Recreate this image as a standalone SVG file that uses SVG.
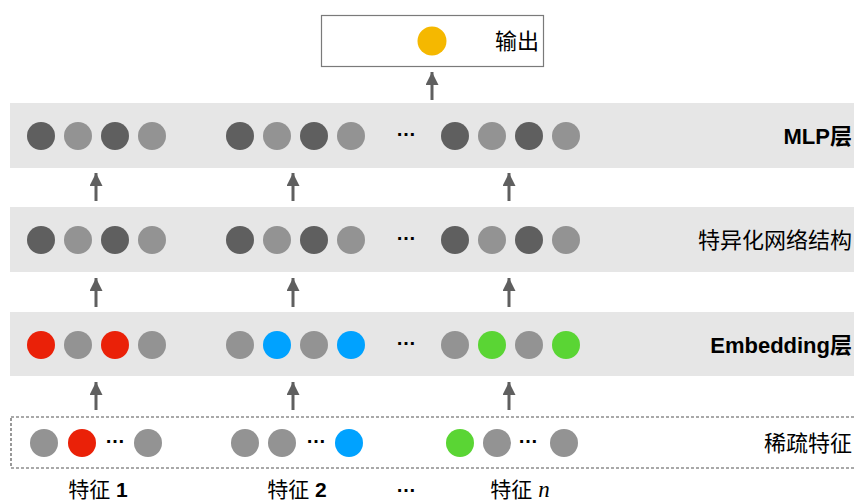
<svg xmlns="http://www.w3.org/2000/svg" width="854" height="502" viewBox="0 0 854 502">
<defs>
<marker id="ah" markerUnits="userSpaceOnUse" markerWidth="13" markerHeight="14" refX="13" refY="6.5" orient="auto">
<path d="M0,0 L13,6.5 L0,13 Z" fill="#5f5f5f"/>
</marker>
</defs>
<style>
.band{fill:#e6e6e6}
.d{fill:#5f5f5f}
.l{fill:#939393}
.r{fill:#ea2108}
.b{fill:#00a2ff}
.g{fill:#5ad534}
.lab{font-family:"Liberation Sans","Noto Sans CJK SC",sans-serif;font-size:22px;fill:#000;text-anchor:end;dominant-baseline:central}
.bold{font-weight:bold}
.dots{font-family:"Liberation Sans",sans-serif;font-size:20px;font-weight:bold;fill:#000;text-anchor:middle;dominant-baseline:central}
.cap{font-family:"Liberation Sans","Noto Sans CJK SC",sans-serif;font-size:21px;fill:#000;text-anchor:middle;dominant-baseline:central}
.arr{stroke:#5f5f5f;stroke-width:3;fill:none;marker-end:url(#ah)}
</style>
<g id="output">
<rect x="321.5" y="15.5" width="222" height="51" fill="#fff" stroke="#7a7a7a" stroke-width="1.2"/>
<circle cx="432" cy="41" r="14.5" fill="#f5b800"/>
<text class="lab" x="539" y="41">输出</text>
</g>
<g id="mlp">
<rect class="band" x="10" y="103" width="844" height="65"/>
<circle class="d" cx="41" cy="136" r="14"/><circle class="l" cx="78" cy="136" r="14"/><circle class="d" cx="115" cy="136" r="14"/><circle class="l" cx="152" cy="136" r="14"/>
<circle class="d" cx="240" cy="136" r="14"/><circle class="l" cx="277" cy="136" r="14"/><circle class="d" cx="314" cy="136" r="14"/><circle class="l" cx="351" cy="136" r="14"/>
<text class="dots" x="406" y="129">…</text>
<circle class="d" cx="455" cy="136" r="14"/><circle class="l" cx="492" cy="136" r="14"/><circle class="d" cx="529" cy="136" r="14"/><circle class="l" cx="566" cy="136" r="14"/>
<text class="lab bold" x="852" y="136">MLP层</text>
</g>
<g id="specialized">
<rect class="band" x="10" y="207" width="844" height="65"/>
<circle class="d" cx="41" cy="240" r="14"/><circle class="l" cx="78" cy="240" r="14"/><circle class="d" cx="115" cy="240" r="14"/><circle class="l" cx="152" cy="240" r="14"/>
<circle class="d" cx="240" cy="240" r="14"/><circle class="l" cx="277" cy="240" r="14"/><circle class="d" cx="314" cy="240" r="14"/><circle class="l" cx="351" cy="240" r="14"/>
<text class="dots" x="406" y="233">…</text>
<circle class="d" cx="455" cy="240" r="14"/><circle class="l" cx="492" cy="240" r="14"/><circle class="d" cx="529" cy="240" r="14"/><circle class="l" cx="566" cy="240" r="14"/>
<text class="lab" x="852" y="240">特异化网络结构</text>
</g>
<g id="embedding">
<rect class="band" x="10" y="312" width="844" height="64"/>
<circle class="r" cx="41" cy="345" r="14"/><circle class="l" cx="78" cy="345" r="14"/><circle class="r" cx="115" cy="345" r="14"/><circle class="l" cx="152" cy="345" r="14"/>
<circle class="l" cx="240" cy="345" r="14"/><circle class="b" cx="277" cy="345" r="14"/><circle class="l" cx="314" cy="345" r="14"/><circle class="b" cx="351" cy="345" r="14"/>
<text class="dots" x="406" y="338">…</text>
<circle class="l" cx="455" cy="345" r="14"/><circle class="g" cx="492" cy="345" r="14"/><circle class="l" cx="529" cy="345" r="14"/><circle class="g" cx="566" cy="345" r="14"/>
<text class="lab bold" x="852" y="345">Embedding层</text>
</g>
<g id="sparse">
<rect x="11" y="417" width="846" height="51" fill="none" stroke="#555" stroke-width="1.2" stroke-dasharray="3,2"/>
<circle class="l" cx="44" cy="443" r="14"/><circle class="r" cx="82" cy="443" r="14"/>
<text class="dots" x="115" y="436">…</text>
<circle class="l" cx="148" cy="443" r="14"/>
<circle class="l" cx="245" cy="443" r="14"/><circle class="l" cx="282" cy="443" r="14"/>
<text class="dots" x="316" y="436">…</text>
<circle class="b" cx="349" cy="443" r="14"/>
<circle class="g" cx="460" cy="443" r="14"/><circle class="l" cx="497" cy="443" r="14"/>
<text class="dots" x="528" y="436">…</text>
<circle class="l" cx="564" cy="443" r="14"/>
<text class="lab" x="852" y="443">稀疏特征</text>
</g>
<g id="captions">
<text class="cap" x="98" y="489">特征 <tspan font-weight="bold">1</tspan></text>
<text class="cap" x="297" y="489">特征 <tspan font-weight="bold">2</tspan></text>
<text class="dots" x="406" y="485">…</text>
<text class="cap" x="520" y="489">特征 <tspan font-family="Liberation Serif" font-style="italic" font-size="23">n</tspan></text>
</g>
<g id="connectors">
<line class="arr" x1="432" y1="100" x2="432" y2="72"/>
<line class="arr" x1="96" y1="201" x2="96" y2="173"/>
<line class="arr" x1="293" y1="201" x2="293" y2="173"/>
<line class="arr" x1="509" y1="201" x2="509" y2="173"/>
<line class="arr" x1="96" y1="307" x2="96" y2="278"/>
<line class="arr" x1="293" y1="307" x2="293" y2="278"/>
<line class="arr" x1="509" y1="307" x2="509" y2="278"/>
<line class="arr" x1="96" y1="410" x2="96" y2="382"/>
<line class="arr" x1="293" y1="410" x2="293" y2="382"/>
<line class="arr" x1="509" y1="410" x2="509" y2="382"/>
</g>
</svg>
